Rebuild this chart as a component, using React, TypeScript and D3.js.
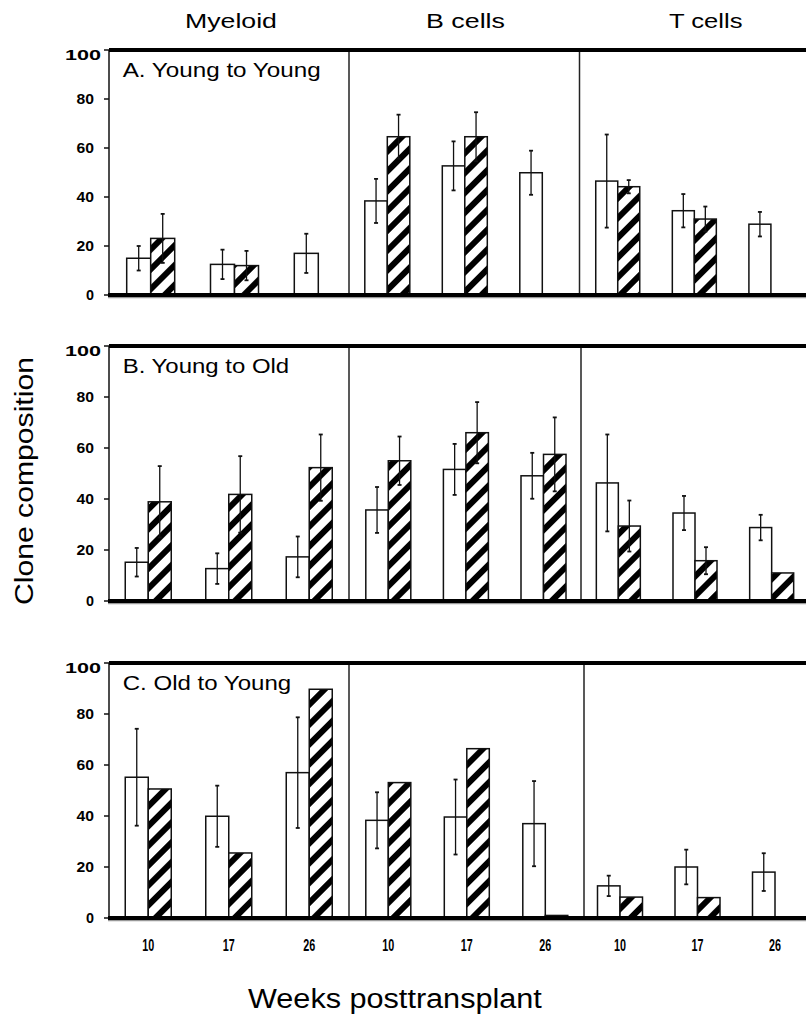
import React from "react";
import * as d3 from "d3";

const cellTypes = ["Myeloid", "B cells", "T cells"];
const weeks = ["10", "17", "26"];
const panelTitles = ["A. Young to Young", "B. Young to Old", "C. Old to Young"];
const yTicks = [0, 20, 40, 60, 80, 100];

// order: Myeloid 10,17,26 | B cells 10,17,26 | T cells 10,17,26
const aOpenMean = [15, 12.5, 17, 38.4, 52.7, 49.9, 46.5, 34.4, 28.9];
const aOpenErr = [5, 6, 8, 9, 10, 9, 19, 6.8, 5];
const aHatchMean = [23.1, 12, null, 64.6, 64.6, null, 44.2, 31, null];
const aHatchErr = [10, 6, null, 9, 10, null, 2.7, 5.1, null];

const bOpenMean = [15.2, 12.7, 17.3, 35.7, 51.6, 49.1, 46.3, 34.5, 28.8];
const bOpenErr = [5.6, 6, 8, 9, 10, 9, 19, 6.7, 5];
const bHatchMean = [38.9, 41.8, 52.3, 55, 66, 57.5, 29.4, 15.8, 11];
const bHatchErr = [14, 15, 13, 9.5, 12, 14.5, 10, 5.3, null];

const cOpenMean = [55.2, 39.9, 57, 38.3, 39.6, 37, 12.6, 20, 18];
const cOpenErr = [19, 12, 21.7, 11, 14.7, 16.7, 4, 6.8, 7.4];
const cHatchMean = [50.6, 25.5, 89.7, 53.1, 66.4, 1, 8.2, 8, 0.4];
const cHatchErr = [null, null, null, null, null, null, null, null, null];

const panelsData = [
  { openMean: aOpenMean, openErr: aOpenErr, hatchMean: aHatchMean, hatchErr: aHatchErr },
  { openMean: bOpenMean, openErr: bOpenErr, hatchMean: bHatchMean, hatchErr: bHatchErr },
  { openMean: cOpenMean, openErr: cOpenErr, hatchMean: cHatchMean, hatchErr: cHatchErr },
];

// layout (pixels)
const W = 806;
const H = 1017;
const axisX = 109;
const panelLayout = [
  {
    y0: 295, y100: 50,
    sections: [[108.8, 360.2, 24], [348.55, 581.05, 22.5], [579.45, 809.2, 22]],
    dividers: [349, 579.5],
    titleW: 199,
  },
  {
    y0: 601, y100: 346,
    sections: [[108, 349.5, 23], [349.5, 582.3, 22.5], [580, 810, 22]],
    dividers: [349, 581],
    titleW: 167,
  },
  {
    y0: 918, y100: 663,
    sections: [[108, 349.5, 23], [349.05, 584.55, 22.5], [581.25, 813.75, 22.5]],
    dividers: [349, 584],
    titleW: 169,
  },
];
const headerPos = [
  { x: 231, w: 92 },
  { x: 465.5, w: 79 },
  { x: 706, w: 74 },
];

const FONT = "'Liberation Sans', Arial, Helvetica, sans-serif";

let measureCtx: CanvasRenderingContext2D | null = null;
function measure(text: string, size: number, bold: boolean): number {
  if (!measureCtx && typeof document !== "undefined") {
    measureCtx = document.createElement("canvas").getContext("2d");
  }
  if (!measureCtx) return text.length * size * 0.55;
  measureCtx.font = `${bold ? "bold " : ""}${size}px 'Liberation Sans', Arial, sans-serif`;
  return measureCtx.measureText(text).width;
}

// text whose glyphs are horizontally scaled to an exact width
function SText({ x, y, size, width, bold = false, anchor = "start", rotate = 0, children }: any) {
  const nat = measure(children, size, bold);
  const sx = width / nat;
  const off = anchor === "middle" ? -width / 2 : anchor === "end" ? -width : 0;
  return (
    <g transform={`translate(${x},${y}) rotate(${rotate}) translate(${off},0) scale(${sx},1)`}>
      <text x={0} y={0} fontFamily={FONT} fontSize={size} fontWeight={bold ? "bold" : "normal"}>
        {children}
      </text>
    </g>
  );
}

function Panel({ pi }: { pi: number }) {
  const L = panelLayout[pi];
  const D = panelsData[pi];
  const y = d3.scaleLinear().domain([0, 100]).range([L.y0, L.y100]);
  const marks: React.ReactNode[] = [];
  L.sections.forEach((s, si) => {
    const x = d3.scaleBand().domain(weeks).range([s[0], s[1]]).padding(0);
    const bw = s[2];
    weeks.forEach((w, wi) => {
      const idx = si * 3 + wi;
      const c = (x(w) as number) + x.bandwidth() / 2;
      const om = D.openMean[idx];
      const oe = D.openErr[idx];
      const hm = D.hatchMean[idx];
      const he = D.hatchErr[idx];
      if (om != null) {
        marks.push(
          <rect key={`o${idx}`} x={c - bw} y={y(om)} width={bw} height={y(0) - y(om)}
            fill="#fff" stroke="#111" strokeWidth={1.5} />
        );
      }
      if (hm != null) {
        marks.push(
          <rect key={`h${idx}`} x={c} y={y(hm)} width={bw} height={y(0) - y(hm)}
            fill="url(#hatch)" stroke="#111" strokeWidth={1.5} />
        );
      }
      const errs: [number | null, number | null, number][] = [
        [om, oe, c - bw / 2],
        [hm, he, c + bw / 2],
      ];
      errs.forEach(([m, e, ex], k) => {
        if (m == null || e == null) return;
        const yt = y(m + e);
        const yb = y(Math.max(0, m - e));
        marks.push(
          <g key={`e${idx}-${k}`} stroke="#111" strokeWidth={1.3}>
            <line x1={ex} x2={ex} y1={yt} y2={yb} />
            <line x1={ex - 2} x2={ex + 2} y1={yt} y2={yt} strokeWidth={1.8} />
            <line x1={ex - 2} x2={ex + 2} y1={yb} y2={yb} strokeWidth={1.8} />
          </g>
        );
      });
    });
  });

  return (
    <g>
      {marks}
      {L.dividers.map((dx, i) => (
        <line key={`d${i}`} x1={dx} x2={dx} y1={L.y100} y2={L.y0} stroke="#222" strokeWidth={1.5} />
      ))}
      <line x1={axisX} x2={axisX} y1={L.y100} y2={L.y0} stroke="#111" strokeWidth={1.5} />
      {yTicks.map((t) => (
        <g key={`t${t}`}>
          <line x1={axisX - 5} x2={axisX} y1={y(t)} y2={y(t)} stroke="#111" strokeWidth={1.5} />
          {t === 100 ? (
            <SText x={101} y={y(t) + 10} anchor="end" bold size={15} width={36}>{String(t)}</SText>
          ) : (
            <SText x={94} y={y(t) + 5.3} anchor="end" bold size={15} width={t === 0 ? 8 : 17.5}>{String(t)}</SText>
          )}
        </g>
      ))}
      <line x1={axisX} x2={W} y1={L.y100} y2={L.y100} stroke="#000" strokeWidth={4} />
      <line x1={axisX - 1} x2={W} y1={L.y0 + 2.5} y2={L.y0 + 2.5} stroke="#999" strokeWidth={1.5} />
      <line x1={axisX - 1} x2={W} y1={L.y0} y2={L.y0} stroke="#000" strokeWidth={4} />
      <SText x={122.7} y={L.y100 + 27} size={21} width={L.titleW}>{panelTitles[pi]}</SText>
    </g>
  );
}

export default function App() {
  const L = panelLayout[2];
  const labels: React.ReactNode[] = [];
  L.sections.forEach((s, si) => {
    const x = d3.scaleBand().domain(weeks).range([s[0], s[1]]).padding(0);
    weeks.forEach((w) => {
      const c = (x(w) as number) + x.bandwidth() / 2;
      labels.push(
        <SText key={`xl${si}${w}`} x={c} y={951} anchor="middle" bold size={17} width={12}>{w}</SText>
      );
    });
  });
  return (
    <svg width={W} height={H} viewBox={`0 0 ${W} ${H}`}
      style={{ position: "absolute", left: 0, top: 0, background: "#fff" }}>
      <defs>
        <pattern id="hatch" patternUnits="userSpaceOnUse" width={14} height={14}
          patternTransform="rotate(45)">
          <rect width={14} height={14} fill="#fff" />
          <rect x={0} y={0} width={6} height={14} fill="#000" />
        </pattern>
      </defs>
      <rect width={W} height={H} fill="#fff" />
      {cellTypes.map((ct, i) => (
        <SText key={ct} x={headerPos[i].x} y={28} anchor="middle" size={21} width={headerPos[i].w}>{ct}</SText>
      ))}
      {panelLayout.map((_, pi) => <Panel key={pi} pi={pi} />)}
      {labels}
      <SText x={32.8} y={605} rotate={-90} size={25} width={248}>Clone composition</SText>
      <SText x={395} y={1008} anchor="middle" size={28} width={294}>Weeks posttransplant</SText>
    </svg>
  );
}
